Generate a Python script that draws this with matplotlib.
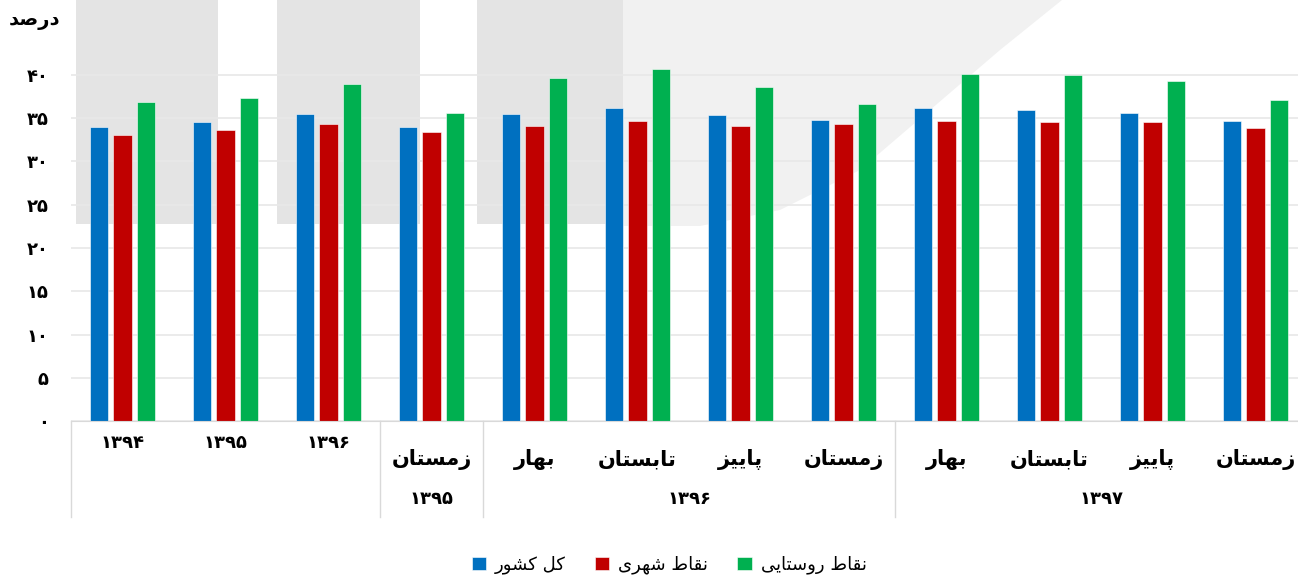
import numpy as np
import matplotlib
matplotlib.use('Agg')
import matplotlib.pyplot as plt
from matplotlib.patches import Rectangle, Polygon
from matplotlib.lines import Line2D
from matplotlib.transforms import blended_transform_factory

# داده‌ها (درصد)
kol_keshvar = [34.0, 34.5, 35.5, 34.0, 35.5, 36.2, 35.4, 34.8, 36.1, 35.9, 35.6, 34.6]
nghat_shahri = [33.0, 33.6, 34.3, 33.4, 34.1, 34.6, 34.1, 34.3, 34.6, 34.5, 34.5, 33.9]
nghat_rustai = [36.8, 37.3, 38.9, 35.6, 39.6, 40.6, 38.6, 36.6, 40.1, 40.0, 39.3, 37.1]
season_labels = ['۱۳۹۴', '۱۳۹۵', '۱۳۹۶', 'زمستان', 'بهار', 'تابستان', 'پاییز', 'زمستان',
                 'بهار', 'تابستان', 'پاییز', 'زمستان']
year_groups = [('۱۳۹۵', 3, 3), ('۱۳۹۶', 4, 7), ('۱۳۹۷', 8, 11)]
series_names = ['کل کشور', 'نقاط شهری', 'نقاط روستایی']
colors = ['#0070C0', '#C00000', '#00B050']
yticks = [0, 5, 10, 15, 20, 25, 30, 35, 40]

# شکل‌دهی حروف فارسی (matplotlib حروف را به هم وصل نمی‌کند)
FORMS = {
    'ا': ('\uFE8D', '\uFE8E', None, None),
    'ب': ('\uFE8F', '\uFE90', '\uFE91', '\uFE92'),
    'پ': ('\uFB56', '\uFB57', '\uFB58', '\uFB59'),
    'ت': ('\uFE95', '\uFE96', '\uFE97', '\uFE98'),
    'د': ('\uFEA9', '\uFEAA', None, None),
    'ر': ('\uFEAD', '\uFEAE', None, None),
    'ز': ('\uFEAF', '\uFEB0', None, None),
    'س': ('\uFEB1', '\uFEB2', '\uFEB3', '\uFEB4'),
    'ش': ('\uFEB5', '\uFEB6', '\uFEB7', '\uFEB8'),
    'ص': ('\uFEB9', '\uFEBA', '\uFEBB', '\uFEBC'),
    'ط': ('\uFEC1', '\uFEC2', '\uFEC3', '\uFEC4'),
    'ق': ('\uFED5', '\uFED6', '\uFED7', '\uFED8'),
    'ک': ('\uFB8E', '\uFB8F', '\uFB90', '\uFB91'),
    'ل': ('\uFEDD', '\uFEDE', '\uFEDF', '\uFEE0'),
    'م': ('\uFEE1', '\uFEE2', '\uFEE3', '\uFEE4'),
    'ن': ('\uFEE5', '\uFEE6', '\uFEE7', '\uFEE8'),
    'ه': ('\uFEE9', '\uFEEA', '\uFEEB', '\uFEEC'),
    'و': ('\uFEED', '\uFEEE', None, None),
    'ی': ('\uFBFC', '\uFBFD', '\uFBFE', '\uFBFF'),
}


def fa(text):
    if not any(c in FORMS for c in text):
        return text   # فقط عدد
    out = []
    for i, c in enumerate(text):
        if c not in FORMS:
            out.append(c)
            continue
        prev = text[i-1] if i > 0 else None
        nxt = text[i+1] if i + 1 < len(text) else None
        iso, fin, ini, med = FORMS[c]
        join_prev = prev in FORMS and FORMS[prev][2] is not None
        join_next = nxt in FORMS and ini is not None
        if join_prev and join_next:
            out.append(med)
        elif join_prev:
            out.append(fin)
        elif join_next:
            out.append(ini)
        else:
            out.append(iso)
    return ''.join(reversed(out))


def fa_num(n):
    return str(n).translate(str.maketrans('0123456789', '۰۱۲۳۴۵۶۷۸۹'))


plt.rcParams['font.family'] = ['DejaVu Sans']
W, H = 1298, 578
fig = plt.figure(figsize=(W/100, H/100), dpi=100)


def fx(px):
    return px / W


def fy(py):
    return 1 - py / H


ax = fig.add_axes([fx(71), fy(421.3), fx(1307) - fx(71), fy(31.3) - fy(421.3)])
ax.set_facecolor('none')
ax.set_zorder(2)

# واترمارک پس‌زمینه
bg = fig.add_axes([0, 0, 1, 1], zorder=0)
bg.set_xlim(0, W)
bg.set_ylim(H, 0)
bg.axis('off')
for x0, x1 in [(76, 218), (277, 420), (477, 623)]:
    bg.add_patch(Rectangle((x0, 0), x1 - x0, 224, color='#e4e4e4', lw=0))
poly = [(623, 0), (1062, 0), (1000, 50), (930, 110), (860, 170), (780, 210), (700, 226), (623, 226)]
bg.add_patch(Polygon(poly, closed=True, color='#f1f1f1', lw=0))

x = np.arange(len(kol_keshvar))
bw = 0.175
offs = [-0.225, 0, 0.225]
handles = []
for vals, c, o, name in zip([kol_keshvar, nghat_shahri, nghat_rustai], colors, offs, series_names):
    b = ax.bar(x + o, vals, width=bw, color=c, edgecolor='white', linewidth=0.4, zorder=3, label=fa(name))
    handles.append(b)

ax.set_xlim(-0.5, len(x) - 0.5)
ax.set_ylim(0, 45)
ax.set_yticks(yticks)
ax.set_yticklabels([fa_num(v) for v in yticks], fontsize=13, fontweight='bold')
ax.tick_params(axis='y', length=0, pad=16)
ax.tick_params(axis='x', length=0, labelbottom=False)
ax.grid(axis='y', color='#e8e8e8', linewidth=1.2, zorder=0)
for s in ['top', 'right', 'left']:
    ax.spines[s].set_visible(False)
ax.spines['bottom'].set_color('#d9d9d9')
ax.spines['bottom'].set_zorder(4)

# برچسب‌های محور افقی دو سطحی
tr = blended_transform_factory(ax.transData, fig.transFigure)
for i, lab in enumerate(season_labels):
    if i < 3:
        ax.text(i, fy(443), lab, transform=tr, ha='center', va='center', fontsize=13, fontweight='bold')
    else:
        ax.text(i, fy(459), fa(lab), transform=tr, ha='center', va='center', fontsize=15, fontweight='bold')
for lab, a, b in year_groups:
    ax.text((a + b) / 2, fy(499), lab, transform=tr, ha='center', va='center', fontsize=13, fontweight='bold')
for xb in [-0.5, 2.5, 3.5, 7.5, 11.5]:
    ax.add_line(Line2D([xb, xb], [fy(421.3), fy(517)], transform=tr, color='#d9d9d9', lw=1, clip_on=False))

fig.text(fx(35), fy(21), fa('درصد'), ha='center', va='center', fontsize=14, fontweight='bold')

fig.legend(handles=handles, loc='center', bbox_to_anchor=(fx(669), fy(565)), ncol=3, frameon=False,
           fontsize=13, handlelength=0.8, handleheight=0.8, handletextpad=0.5, columnspacing=1.6)

fig.savefig('out.png', dpi=100)
